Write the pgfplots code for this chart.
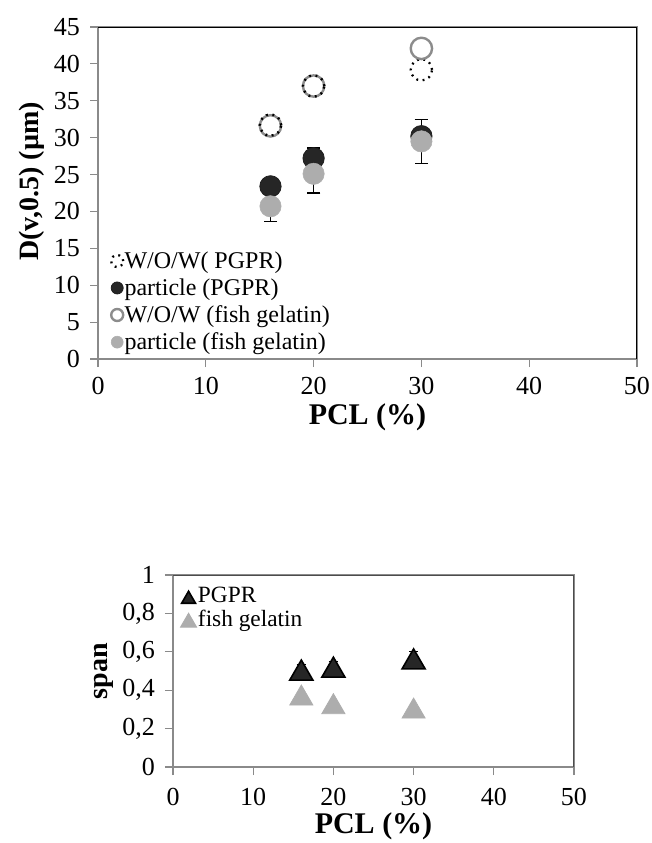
\documentclass[border=0pt]{standalone}
\usepackage{pgfplots}
\pgfplotsset{compat=1.18}
\usepackage{fontspec}
\setmainfont{Liberation Serif}
\definecolor{darkfill}{HTML}{262626}
\definecolor{lightfill}{HTML}{ADADAD}
\definecolor{ringgray}{HTML}{8C8C8C}
\definecolor{axgray}{HTML}{8A8A8A}
\pgfplotsset{
  mystyle/.style={
    scale only axis,
    axis line style={axgray, line width=0.8pt},
    tick style={axgray, line width=0.8pt},
    tick align=outside,
    major tick length=6pt,
    xtick pos=bottom, ytick pos=left,
    xmin=0, xmax=50, xtick={0,10,...,50},
    /pgf/number format/assume math mode=true,
    ticklabel style={font=\fontsize{19.5}{22}\selectfont},
    xticklabel style={yshift=-4pt},
    yticklabel style={xshift=-4pt},
    xlabel style={font=\fontsize{22.5}{26}\selectfont\bfseries},
    ylabel style={font=\fontsize{21}{24}\selectfont\bfseries},
    legend cell align=left,
    legend image code/.code={\draw[mark repeat=2,mark phase=2,##1] plot coordinates {(0cm,0cm)(0.25cm,0cm)(0.5cm,0cm)};},
  }
}
\begin{document}
\begin{tikzpicture}[x=1pt,y=1pt]
\useasboundingbox (0,0) rectangle (488.25,-632.25);
% ---------------- top chart ----------------
\begin{axis}[mystyle,
  at={(73.5pt,-269.25pt)}, anchor=south west,
  width=404.25pt, height=249pt,
  ymin=0, ymax=45, ytick={0,5,...,45},
  xlabel={PCL (\%)},
  ylabel={D(v,0.5) (µm)},
  ylabel style={at={(ticklabel cs:0.535)}},
  legend style={at={(0.024,0.328)}, anchor=north west, draw=none, fill=none,
    font=\fontsize{18}{20}\selectfont, row sep=4.2pt, inner sep=0pt,
    nodes={inner sep=1pt}},
]
\addplot[only marks, mark=o, mark size=8pt, mark options={black, line width=1.7pt, dash pattern=on 1.4pt off 3.4pt},
  legend image post style={mark size=4.5pt, line width=1.3pt, dash pattern=on 1.1pt off 2.3pt}]
  table[x=x,y=y] {
x y
16 31.7
20 37.0
30 39.2
};
\addlegendentry{W/O/W( PGPR)}
\addplot[only marks, mark=*, mark size=8pt, mark options={fill=darkfill, draw=darkfill!80!black, line width=0.6pt},
  legend image post style={mark size=4.5pt},
  error bars/.cd, y dir=plus, y explicit,
  error bar style={black, line width=0.8pt},
  error mark options={rotate=90, mark size=5pt, black, line width=0.8pt}]
  table[x=x,y=y,y error=e] {
x y e
16 23.4 0
20 27.2 1.4
30 30.2 2.2
};
\addlegendentry{particle (PGPR)}
\addplot[only marks, mark=o, mark size=8pt, mark options={ringgray, line width=1.8pt},
  legend image post style={mark size=4.5pt, line width=0.9pt}]
  table[x=x,y=y] {
x y
16 31.6
20 37.0
30 42.1
};
\addlegendentry{W/O/W (fish gelatin)}
\addplot[only marks, mark=*, mark size=8pt, mark options={fill=lightfill, draw=lightfill},
  legend image post style={mark size=4.5pt},
  error bars/.cd, y dir=minus, y explicit,
  error bar style={black, line width=0.8pt},
  error mark options={rotate=90, mark size=5pt, black, line width=0.8pt}]
  table[x=x,y=y,y error=e] {
x y e
16 20.7 2.1
20 25.1 2.6
30 29.5 3.0
};
\addlegendentry{particle (fish gelatin)}
\addplot[forget plot, only marks, mark=o, mark size=8pt, mark options={black, line width=1.7pt, dash pattern=on 1.4pt off 3.4pt}]
  table[x=x,y=y] {
x y
16 31.7
20 37.0
};
\draw[black, line width=0.8pt] (rel axis cs:0,1) -- (rel axis cs:1,1) -- (rel axis cs:1,0);
\end{axis}
% ---------------- bottom chart ----------------
\begin{axis}[mystyle,
  at={(129.75pt,-575.25pt)}, anchor=south west,
  width=300.75pt, height=144pt,
  ymin=0, ymax=1, ytick={0,0.2,...,1},
  yticklabel style={/pgf/number format/use comma, /pgf/number format/fixed},
  xticklabel style={yshift=-2pt},
  xlabel={PCL (\%)},
  xlabel style={yshift=1pt},
  ylabel={span},
  legend style={at={(0.018,0.945)}, anchor=north west, draw=none, fill=none,
    font=\fontsize{17.5}{20}\selectfont, row sep=2pt, inner sep=0pt,
    nodes={inner sep=1pt}},
]
\addplot[only marks, mark=triangle*, mark size=10pt, mark options={fill=darkfill, draw=black, line width=1.2pt, yshift=-2.5pt},
  legend image post style={mark size=6pt},
  error bars/.cd, y dir=plus, y explicit,
  error bar style={black, line width=0.8pt},
  error mark options={rotate=90, mark size=3.5pt, black, line width=0.8pt}]
  table[x=x,y=y,y error=e] {
x y e
16 0.505 0.03
20 0.520 0.03
30 0.563 0.04
};
\addlegendentry{PGPR}
\addplot[only marks, mark=triangle*, mark size=10pt, mark options={fill=lightfill, draw=lightfill, line width=0.6pt, yshift=-2.5pt},
  legend image post style={mark size=7pt},
  error bars/.cd, y dir=plus, y explicit,
  error bar style={black, line width=0.6pt},
  error mark options={rotate=90, mark size=2.5pt, black, line width=0.6pt}]
  table[x=x,y=y,y error=e] {
x y e
16 0.375 0.02
20 0.330 0.01
30 0.307 0.02
};
\addlegendentry{fish gelatin}
\draw[black!70, line width=0.8pt] (rel axis cs:0,1) -- (rel axis cs:1,1) -- (rel axis cs:1,0);
\end{axis}
\end{tikzpicture}
\end{document}
